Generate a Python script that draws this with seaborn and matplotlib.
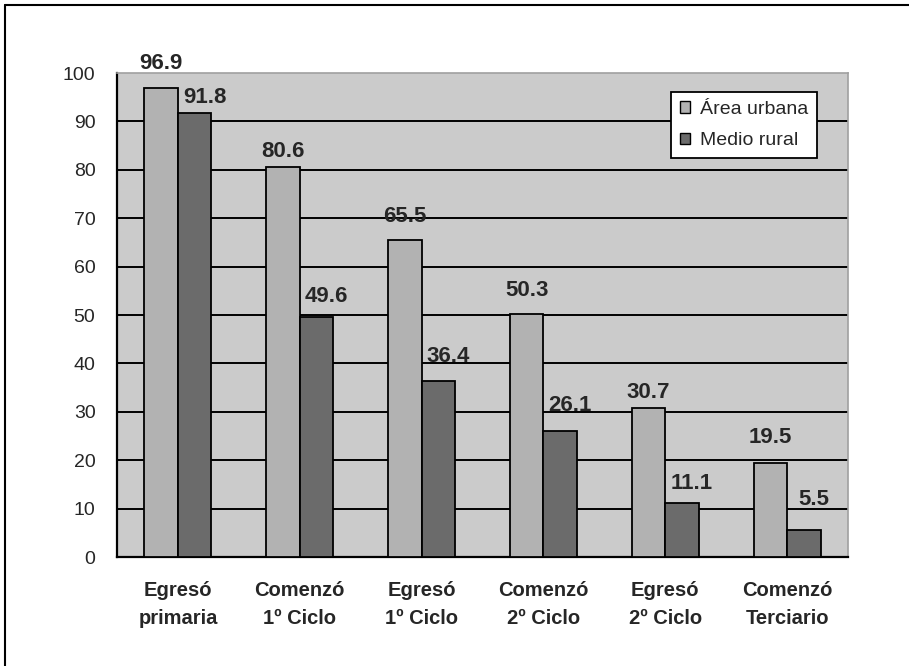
import matplotlib
matplotlib.use("Agg")
import matplotlib.pyplot as plt
from matplotlib.lines import Line2D
import seaborn as sns
import pandas as pd

categories = ["Egresó\nprimaria", "Comenzó\n1º Ciclo", "Egresó\n1º Ciclo",
              "Comenzó\n2º Ciclo", "Egresó\n2º Ciclo", "Comenzó\nTerciario"]
series = ["Área urbana", "Medio rural"]
urbana = [96.9, 80.6, 65.5, 50.3, 30.7, 19.5]
rural = [91.8, 49.6, 36.4, 26.1, 11.1, 5.5]
yticks = [0, 10, 20, 30, 40, 50, 60, 70, 80, 90, 100]

# gap in pixels between each bar top and its value label
gap_urbana = [19, 10, 18, 18, 10, 20]
gap_rural = [10, 15, 19, 20, 14, 25]

df = pd.DataFrame({
    "cat": categories * 2,
    "serie": [series[0]] * len(categories) + [series[1]] * len(categories),
    "val": urbana + rural,
})

sns.set_theme(style="white")
plt.rcParams["font.family"] = ["Liberation Sans", "DejaVu Sans"]

fig = plt.figure(figsize=(9.09, 6.66), dpi=100)
ax = fig.add_axes([117 / 909, 1 - 557 / 666, (848 - 117) / 909, (557 - 73) / 666])
ax.set_facecolor("#cbcbcb")

palette = {series[0]: "#b2b2b2", series[1]: "#6b6b6b"}
sns.barplot(data=df, x="cat", y="val", hue="serie", hue_order=series,
            order=categories, palette=palette, width=0.55, saturation=1,
            edgecolor="black", linewidth=1.3, ax=ax, zorder=3)

ax.set_ylim(0, 100)
ax.set_xlim(-0.5, len(categories) - 0.5)
ax.set_yticks(yticks)
ax.set_yticklabels([str(v) for v in yticks], fontsize=14)
for v in yticks[1:-1]:
    ax.axhline(v, color="black", lw=1.4, zorder=1)

# ticks at the category boundaries
ax.set_xticks([i - 0.5 for i in range(len(categories) + 1)], minor=True)
ax.set_xticks(range(len(categories)))
ax.set_xticklabels(categories, fontsize=14.5, fontweight="bold", linespacing=1.55)
ax.tick_params(axis="x", which="major", length=0, pad=17.5)
ax.tick_params(axis="x", which="minor", length=8, width=1.4, color="black", direction="out")
ax.tick_params(axis="y", length=7.5, width=1.4, color="black", direction="out", pad=8)
ax.set_xlabel("")
ax.set_ylabel("")

for s in ["left", "bottom"]:
    ax.spines[s].set_color("black")
    ax.spines[s].set_linewidth(1.6)
for s in ["top", "right"]:
    ax.spines[s].set_color("#a0a0a0")
    ax.spines[s].set_linewidth(1.2)

# value labels above each bar
for bars, vals, gaps, dx in zip(ax.containers, [urbana, rural], [gap_urbana, gap_rural], [0, 10]):
    for b, v, g in zip(bars, vals, gaps):
        ax.annotate(f"{v:.1f}", (b.get_x() + b.get_width() / 2, b.get_height()),
                    xytext=(dx * 0.72, g * 0.72), textcoords="offset points",
                    ha="center", va="baseline", fontsize=16, fontweight="bold",
                    annotation_clip=False, zorder=5)

leg = ax.legend(loc="upper right", bbox_to_anchor=(0.9576, 0.9607), borderaxespad=0,
                fontsize=14, frameon=True, fancybox=False, framealpha=1, edgecolor="black",
                handlelength=0.55, handleheight=0.55, handletextpad=0.5,
                borderpad=0.45, labelspacing=0.75)
leg.get_frame().set_linewidth(1.3)
leg.set_zorder(6)
for h in leg.legend_handles:
    h.set_edgecolor("black")
    h.set_linewidth(1.0)

# frame lines along the left and top of the figure
fig.add_artist(Line2D([5 / 909, 5 / 909], [0, 1 - 5 / 666], color="black", lw=1.5,
                      transform=fig.transFigure))
fig.add_artist(Line2D([5 / 909, 1], [1 - 5 / 666, 1 - 5 / 666], color="black", lw=1.5,
                      transform=fig.transFigure))

fig.savefig("out.png", dpi=100)
